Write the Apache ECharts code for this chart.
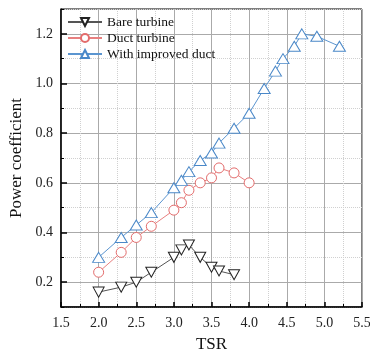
<!DOCTYPE html>
<html>
<head>
<meta charset="utf-8">
<script src="https://cdn.jsdelivr.net/npm/echarts@6/dist/echarts.min.js"></script>
<style>html,body{margin:0;padding:0;background:#fff}#c{width:370px;height:352px}</style>
</head>
<body>
<div id="c"></div>
<script>
const seriesNames = ['Bare turbine', 'Duct turbine', 'With improved duct'];
const tsrBare = [2.0, 2.3, 2.5, 2.7, 3.0, 3.1, 3.2, 3.35, 3.5, 3.6, 3.8];
const cpBare  = [0.16, 0.18, 0.20, 0.24, 0.30, 0.33, 0.35, 0.30, 0.26, 0.245, 0.23];
const tsrDuct = [2.0, 2.3, 2.5, 2.7, 3.0, 3.1, 3.2, 3.35, 3.5, 3.6, 3.8, 4.0];
const cpDuct  = [0.24, 0.32, 0.38, 0.425, 0.49, 0.52, 0.57, 0.60, 0.62, 0.66, 0.64, 0.60];
const tsrImp  = [2.0, 2.3, 2.5, 2.7, 3.0, 3.1, 3.2, 3.35, 3.5, 3.6, 3.8, 4.0, 4.2, 4.35, 4.45, 4.6, 4.7, 4.9, 5.2];
const cpImp   = [0.30, 0.38, 0.43, 0.48, 0.58, 0.61, 0.645, 0.69, 0.72, 0.76, 0.82, 0.88, 0.98, 1.05, 1.10, 1.15, 1.20, 1.19, 1.15];
const xTitle = 'TSR';
const yTitle = 'Power coefficient';

const pairs = (xs, ys) => xs.map((x, i) => [x, ys[i]]);
const FONT = 'Liberation Serif';
const chart = echarts.init(document.getElementById('c'), null, {renderer: 'canvas'});

function lineSeries(name, data, color, lineColor, symbol, size) {
  return {
    name, type: 'line', data, xAxisIndex: 0, yAxisIndex: 0,
    symbol, symbolSize: size, showSymbol: true,
    lineStyle: {color: lineColor, width: 1},
    itemStyle: {color: '#fff', borderColor: color, borderWidth: 1},
    emphasis: {disabled: true},
    z: 5
  };
}

chart.setOption({
  animation: false,
  backgroundColor: '#fff',
  grid: {left: 61, right: 8, top: 9, bottom: 45, containLabel: false, outerBoundsMode: 'none',
    show: true, borderColor: '#000', borderWidth: 1, backgroundColor: 'transparent'},
  legend: {
    orient: 'vertical', left: 67, top: 15, padding: 0, itemGap: 2,
    itemWidth: 34, itemHeight: 10,
    textStyle: {fontFamily: FONT, fontSize: 13.5, color: '#111', lineHeight: 14},
    data: seriesNames
  },
  xAxis: [{
    type: 'value', min: 1.5, max: 5.5, interval: 0.5,
    name: xTitle, nameLocation: 'middle', nameGap: 29,
    nameTextStyle: {fontFamily: FONT, fontSize: 17, color: '#111'},
    axisLine: {show: true, lineStyle: {color: '#000', width: 1.5}},
    axisTick: {show: true, inside: true, length: 5, lineStyle: {color: '#000', width: 1.5}},
    minorTick: {show: true, splitNumber: 2, length: 3, lineStyle: {color: '#000', width: 1}},
    splitLine: {show: true, lineStyle: {color: '#aaa', width: 1}},
    minorSplitLine: {show: true, lineStyle: {color: '#d0d0d0', width: 1, type: 'dotted'}},
    axisLabel: {fontFamily: FONT, fontSize: 14, color: '#222', margin: 9, formatter: v => v.toFixed(1)}
  }],
  yAxis: [{
    type: 'value', min: 0.1, max: 1.3, interval: 0.2,
    axisLine: {show: true, lineStyle: {color: '#000', width: 1.5}},
    axisTick: {show: true, inside: true, length: 3, lineStyle: {color: '#000', width: 1}},
    minorTick: {show: true, splitNumber: 2, length: 6, lineStyle: {color: '#000', width: 1.5}},
    splitLine: {show: true, lineStyle: {color: '#d0d0d0', width: 1, type: 'dotted'}},
    minorSplitLine: {show: true, lineStyle: {color: '#aaa', width: 1}},
    axisLabel: {show: false}
  }, {
    type: 'value', min: 0.1, max: 1.3, interval: 0.1, position: 'left', offset: 0,
    name: yTitle, nameLocation: 'middle', nameGap: 29, nameRotate: 90,
    nameTextStyle: {fontFamily: FONT, fontSize: 17, color: '#111'},
    axisLine: {show: false}, axisTick: {show: false}, splitLine: {show: false},
    axisLabel: {fontFamily: FONT, fontSize: 14, color: '#222', margin: 8,
      formatter: v => (Math.round(v * 10) % 2 === 0 ? v.toFixed(1) : '')}
  }],
  series: [
    lineSeries(seriesNames[0], pairs(tsrBare, cpBare), '#222', '#555', 'path://M0,0 L10,0 L5,9 Z', [11, 10]),
    lineSeries(seriesNames[1], pairs(tsrDuct, cpDuct), '#e36c6c', '#e88080', 'circle', 10),
    lineSeries(seriesNames[2], pairs(tsrImp, cpImp), '#4a88c8', '#5b95d0', 'triangle', [12, 10])
  ]
});
</script>
</body>
</html>
